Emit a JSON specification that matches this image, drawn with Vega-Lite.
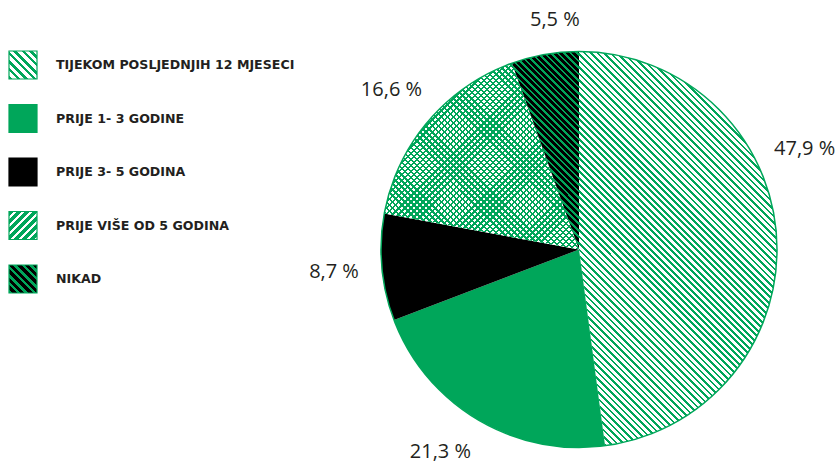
{
"$schema": "https://vega.github.io/schema/vega-lite/v6.json",
"autosize": {"type": "none"},
"padding": {"left": 320, "top": 35, "right": 0, "bottom": 0},
"width": 518,
"height": 429,
"background": "white",
"config": {"view": {"stroke": null}},
"params": [
{"name": "lh", "value": [
{"offset":0,"color":"#00a65a"},{"offset":0.0571,"color":"#00a65a"},{"offset":0.0571,"color":"#ffffff"},{"offset":0.1429,"color":"#ffffff"},
{"offset":0.1429,"color":"#00a65a"},{"offset":0.2,"color":"#00a65a"},{"offset":0.2,"color":"#ffffff"},{"offset":0.2857,"color":"#ffffff"},
{"offset":0.2857,"color":"#00a65a"},{"offset":0.3429,"color":"#00a65a"},{"offset":0.3429,"color":"#ffffff"},{"offset":0.4286,"color":"#ffffff"},
{"offset":0.4286,"color":"#00a65a"},{"offset":0.4857,"color":"#00a65a"},{"offset":0.4857,"color":"#ffffff"},{"offset":0.5714,"color":"#ffffff"},
{"offset":0.5714,"color":"#00a65a"},{"offset":0.6286,"color":"#00a65a"},{"offset":0.6286,"color":"#ffffff"},{"offset":0.7143,"color":"#ffffff"},
{"offset":0.7143,"color":"#00a65a"},{"offset":0.7714,"color":"#00a65a"},{"offset":0.7714,"color":"#ffffff"},{"offset":0.8571,"color":"#ffffff"},
{"offset":0.8571,"color":"#00a65a"},{"offset":0.9143,"color":"#00a65a"},{"offset":0.9143,"color":"#ffffff"},{"offset":1,"color":"#ffffff"}
]},
{"name": "lx", "value": [
{"offset":0,"color":"#00a65a"},{"offset":0.0857,"color":"#00a65a"},{"offset":0.0857,"color":"#ffffff"},{"offset":0.1429,"color":"#ffffff"},
{"offset":0.1429,"color":"#00a65a"},{"offset":0.2286,"color":"#00a65a"},{"offset":0.2286,"color":"#ffffff"},{"offset":0.2857,"color":"#ffffff"},
{"offset":0.2857,"color":"#00a65a"},{"offset":0.3714,"color":"#00a65a"},{"offset":0.3714,"color":"#ffffff"},{"offset":0.4286,"color":"#ffffff"},
{"offset":0.4286,"color":"#00a65a"},{"offset":0.5143,"color":"#00a65a"},{"offset":0.5143,"color":"#ffffff"},{"offset":0.5714,"color":"#ffffff"},
{"offset":0.5714,"color":"#00a65a"},{"offset":0.6571,"color":"#00a65a"},{"offset":0.6571,"color":"#ffffff"},{"offset":0.7143,"color":"#ffffff"},
{"offset":0.7143,"color":"#00a65a"},{"offset":0.8,"color":"#00a65a"},{"offset":0.8,"color":"#ffffff"},{"offset":0.8571,"color":"#ffffff"},
{"offset":0.8571,"color":"#00a65a"},{"offset":0.9429,"color":"#00a65a"},{"offset":0.9429,"color":"#ffffff"},{"offset":1,"color":"#ffffff"}
]},
{"name": "ln", "value": [
{"offset":0,"color":"#00a65a"},{"offset":0.0571,"color":"#00a65a"},{"offset":0.0571,"color":"#000000"},{"offset":0.1429,"color":"#000000"},
{"offset":0.1429,"color":"#00a65a"},{"offset":0.2,"color":"#00a65a"},{"offset":0.2,"color":"#000000"},{"offset":0.2857,"color":"#000000"},
{"offset":0.2857,"color":"#00a65a"},{"offset":0.3429,"color":"#00a65a"},{"offset":0.3429,"color":"#000000"},{"offset":0.4286,"color":"#000000"},
{"offset":0.4286,"color":"#00a65a"},{"offset":0.4857,"color":"#00a65a"},{"offset":0.4857,"color":"#000000"},{"offset":0.5714,"color":"#000000"},
{"offset":0.5714,"color":"#00a65a"},{"offset":0.6286,"color":"#00a65a"},{"offset":0.6286,"color":"#000000"},{"offset":0.7143,"color":"#000000"},
{"offset":0.7143,"color":"#00a65a"},{"offset":0.7714,"color":"#00a65a"},{"offset":0.7714,"color":"#000000"},{"offset":0.8571,"color":"#000000"},
{"offset":0.8571,"color":"#00a65a"},{"offset":0.9143,"color":"#00a65a"},{"offset":0.9143,"color":"#000000"},{"offset":1,"color":"#000000"}
]},
{"name": "st", "value": [
{"offset":0,"color":"#00a65a"},{"offset":0.004,"color":"#00a65a"},{"offset":0.004,"color":"#0000"},{"offset":0.01,"color":"#0000"},
{"offset":0.01,"color":"#00a65a"},{"offset":0.014,"color":"#00a65a"},{"offset":0.014,"color":"#0000"},{"offset":0.02,"color":"#0000"},
{"offset":0.02,"color":"#00a65a"},{"offset":0.024,"color":"#00a65a"},{"offset":0.024,"color":"#0000"},{"offset":0.03,"color":"#0000"},
{"offset":0.03,"color":"#00a65a"},{"offset":0.034,"color":"#00a65a"},{"offset":0.034,"color":"#0000"},{"offset":0.04,"color":"#0000"},
{"offset":0.04,"color":"#00a65a"},{"offset":0.044,"color":"#00a65a"},{"offset":0.044,"color":"#0000"},{"offset":0.05,"color":"#0000"},
{"offset":0.05,"color":"#00a65a"},{"offset":0.054,"color":"#00a65a"},{"offset":0.054,"color":"#0000"},{"offset":0.06,"color":"#0000"},
{"offset":0.06,"color":"#00a65a"},{"offset":0.064,"color":"#00a65a"},{"offset":0.064,"color":"#0000"},{"offset":0.07,"color":"#0000"},
{"offset":0.07,"color":"#00a65a"},{"offset":0.074,"color":"#00a65a"},{"offset":0.074,"color":"#0000"},{"offset":0.08,"color":"#0000"},
{"offset":0.08,"color":"#00a65a"},{"offset":0.084,"color":"#00a65a"},{"offset":0.084,"color":"#0000"},{"offset":0.09,"color":"#0000"},
{"offset":0.09,"color":"#00a65a"},{"offset":0.094,"color":"#00a65a"},{"offset":0.094,"color":"#0000"},{"offset":0.1,"color":"#0000"},
{"offset":0.1,"color":"#00a65a"},{"offset":0.104,"color":"#00a65a"},{"offset":0.104,"color":"#0000"},{"offset":0.11,"color":"#0000"},
{"offset":0.11,"color":"#00a65a"},{"offset":0.114,"color":"#00a65a"},{"offset":0.114,"color":"#0000"},{"offset":0.12,"color":"#0000"},
{"offset":0.12,"color":"#00a65a"},{"offset":0.124,"color":"#00a65a"},{"offset":0.124,"color":"#0000"},{"offset":0.13,"color":"#0000"},
{"offset":0.13,"color":"#00a65a"},{"offset":0.134,"color":"#00a65a"},{"offset":0.134,"color":"#0000"},{"offset":0.14,"color":"#0000"},
{"offset":0.14,"color":"#00a65a"},{"offset":0.144,"color":"#00a65a"},{"offset":0.144,"color":"#0000"},{"offset":0.15,"color":"#0000"},
{"offset":0.15,"color":"#00a65a"},{"offset":0.154,"color":"#00a65a"},{"offset":0.154,"color":"#0000"},{"offset":0.16,"color":"#0000"},
{"offset":0.16,"color":"#00a65a"},{"offset":0.164,"color":"#00a65a"},{"offset":0.164,"color":"#0000"},{"offset":0.17,"color":"#0000"},
{"offset":0.17,"color":"#00a65a"},{"offset":0.174,"color":"#00a65a"},{"offset":0.174,"color":"#0000"},{"offset":0.18,"color":"#0000"},
{"offset":0.18,"color":"#00a65a"},{"offset":0.184,"color":"#00a65a"},{"offset":0.184,"color":"#0000"},{"offset":0.19,"color":"#0000"},
{"offset":0.19,"color":"#00a65a"},{"offset":0.194,"color":"#00a65a"},{"offset":0.194,"color":"#0000"},{"offset":0.2,"color":"#0000"},
{"offset":0.2,"color":"#00a65a"},{"offset":0.204,"color":"#00a65a"},{"offset":0.204,"color":"#0000"},{"offset":0.21,"color":"#0000"},
{"offset":0.21,"color":"#00a65a"},{"offset":0.214,"color":"#00a65a"},{"offset":0.214,"color":"#0000"},{"offset":0.22,"color":"#0000"},
{"offset":0.22,"color":"#00a65a"},{"offset":0.224,"color":"#00a65a"},{"offset":0.224,"color":"#0000"},{"offset":0.23,"color":"#0000"},
{"offset":0.23,"color":"#00a65a"},{"offset":0.234,"color":"#00a65a"},{"offset":0.234,"color":"#0000"},{"offset":0.24,"color":"#0000"},
{"offset":0.24,"color":"#00a65a"},{"offset":0.244,"color":"#00a65a"},{"offset":0.244,"color":"#0000"},{"offset":0.25,"color":"#0000"},
{"offset":0.25,"color":"#00a65a"},{"offset":0.254,"color":"#00a65a"},{"offset":0.254,"color":"#0000"},{"offset":0.26,"color":"#0000"},
{"offset":0.26,"color":"#00a65a"},{"offset":0.264,"color":"#00a65a"},{"offset":0.264,"color":"#0000"},{"offset":0.27,"color":"#0000"},
{"offset":0.27,"color":"#00a65a"},{"offset":0.274,"color":"#00a65a"},{"offset":0.274,"color":"#0000"},{"offset":0.28,"color":"#0000"},
{"offset":0.28,"color":"#00a65a"},{"offset":0.284,"color":"#00a65a"},{"offset":0.284,"color":"#0000"},{"offset":0.29,"color":"#0000"},
{"offset":0.29,"color":"#00a65a"},{"offset":0.294,"color":"#00a65a"},{"offset":0.294,"color":"#0000"},{"offset":0.3,"color":"#0000"},
{"offset":0.3,"color":"#00a65a"},{"offset":0.304,"color":"#00a65a"},{"offset":0.304,"color":"#0000"},{"offset":0.31,"color":"#0000"},
{"offset":0.31,"color":"#00a65a"},{"offset":0.314,"color":"#00a65a"},{"offset":0.314,"color":"#0000"},{"offset":0.32,"color":"#0000"},
{"offset":0.32,"color":"#00a65a"},{"offset":0.324,"color":"#00a65a"},{"offset":0.324,"color":"#0000"},{"offset":0.33,"color":"#0000"},
{"offset":0.33,"color":"#00a65a"},{"offset":0.334,"color":"#00a65a"},{"offset":0.334,"color":"#0000"},{"offset":0.34,"color":"#0000"},
{"offset":0.34,"color":"#00a65a"},{"offset":0.344,"color":"#00a65a"},{"offset":0.344,"color":"#0000"},{"offset":0.35,"color":"#0000"},
{"offset":0.35,"color":"#00a65a"},{"offset":0.354,"color":"#00a65a"},{"offset":0.354,"color":"#0000"},{"offset":0.36,"color":"#0000"},
{"offset":0.36,"color":"#00a65a"},{"offset":0.364,"color":"#00a65a"},{"offset":0.364,"color":"#0000"},{"offset":0.37,"color":"#0000"},
{"offset":0.37,"color":"#00a65a"},{"offset":0.374,"color":"#00a65a"},{"offset":0.374,"color":"#0000"},{"offset":0.38,"color":"#0000"},
{"offset":0.38,"color":"#00a65a"},{"offset":0.384,"color":"#00a65a"},{"offset":0.384,"color":"#0000"},{"offset":0.39,"color":"#0000"},
{"offset":0.39,"color":"#00a65a"},{"offset":0.394,"color":"#00a65a"},{"offset":0.394,"color":"#0000"},{"offset":0.4,"color":"#0000"},
{"offset":0.4,"color":"#00a65a"},{"offset":0.404,"color":"#00a65a"},{"offset":0.404,"color":"#0000"},{"offset":0.41,"color":"#0000"},
{"offset":0.41,"color":"#00a65a"},{"offset":0.414,"color":"#00a65a"},{"offset":0.414,"color":"#0000"},{"offset":0.42,"color":"#0000"},
{"offset":0.42,"color":"#00a65a"},{"offset":0.424,"color":"#00a65a"},{"offset":0.424,"color":"#0000"},{"offset":0.43,"color":"#0000"},
{"offset":0.43,"color":"#00a65a"},{"offset":0.434,"color":"#00a65a"},{"offset":0.434,"color":"#0000"},{"offset":0.44,"color":"#0000"},
{"offset":0.44,"color":"#00a65a"},{"offset":0.444,"color":"#00a65a"},{"offset":0.444,"color":"#0000"},{"offset":0.45,"color":"#0000"},
{"offset":0.45,"color":"#00a65a"},{"offset":0.454,"color":"#00a65a"},{"offset":0.454,"color":"#0000"},{"offset":0.46,"color":"#0000"},
{"offset":0.46,"color":"#00a65a"},{"offset":0.464,"color":"#00a65a"},{"offset":0.464,"color":"#0000"},{"offset":0.47,"color":"#0000"},
{"offset":0.47,"color":"#00a65a"},{"offset":0.474,"color":"#00a65a"},{"offset":0.474,"color":"#0000"},{"offset":0.48,"color":"#0000"},
{"offset":0.48,"color":"#00a65a"},{"offset":0.484,"color":"#00a65a"},{"offset":0.484,"color":"#0000"},{"offset":0.49,"color":"#0000"},
{"offset":0.49,"color":"#00a65a"},{"offset":0.494,"color":"#00a65a"},{"offset":0.494,"color":"#0000"},{"offset":0.5,"color":"#0000"},
{"offset":0.5,"color":"#00a65a"},{"offset":0.504,"color":"#00a65a"},{"offset":0.504,"color":"#0000"},{"offset":0.51,"color":"#0000"},
{"offset":0.51,"color":"#00a65a"},{"offset":0.514,"color":"#00a65a"},{"offset":0.514,"color":"#0000"},{"offset":0.52,"color":"#0000"},
{"offset":0.52,"color":"#00a65a"},{"offset":0.524,"color":"#00a65a"},{"offset":0.524,"color":"#0000"},{"offset":0.53,"color":"#0000"},
{"offset":0.53,"color":"#00a65a"},{"offset":0.534,"color":"#00a65a"},{"offset":0.534,"color":"#0000"},{"offset":0.54,"color":"#0000"},
{"offset":0.54,"color":"#00a65a"},{"offset":0.544,"color":"#00a65a"},{"offset":0.544,"color":"#0000"},{"offset":0.55,"color":"#0000"},
{"offset":0.55,"color":"#00a65a"},{"offset":0.554,"color":"#00a65a"},{"offset":0.554,"color":"#0000"},{"offset":0.56,"color":"#0000"},
{"offset":0.56,"color":"#00a65a"},{"offset":0.564,"color":"#00a65a"},{"offset":0.564,"color":"#0000"},{"offset":0.57,"color":"#0000"},
{"offset":0.57,"color":"#00a65a"},{"offset":0.574,"color":"#00a65a"},{"offset":0.574,"color":"#0000"},{"offset":0.58,"color":"#0000"},
{"offset":0.58,"color":"#00a65a"},{"offset":0.584,"color":"#00a65a"},{"offset":0.584,"color":"#0000"},{"offset":0.59,"color":"#0000"},
{"offset":0.59,"color":"#00a65a"},{"offset":0.594,"color":"#00a65a"},{"offset":0.594,"color":"#0000"},{"offset":0.6,"color":"#0000"},
{"offset":0.6,"color":"#00a65a"},{"offset":0.604,"color":"#00a65a"},{"offset":0.604,"color":"#0000"},{"offset":0.61,"color":"#0000"},
{"offset":0.61,"color":"#00a65a"},{"offset":0.614,"color":"#00a65a"},{"offset":0.614,"color":"#0000"},{"offset":0.62,"color":"#0000"},
{"offset":0.62,"color":"#00a65a"},{"offset":0.624,"color":"#00a65a"},{"offset":0.624,"color":"#0000"},{"offset":0.63,"color":"#0000"},
{"offset":0.63,"color":"#00a65a"},{"offset":0.634,"color":"#00a65a"},{"offset":0.634,"color":"#0000"},{"offset":0.64,"color":"#0000"},
{"offset":0.64,"color":"#00a65a"},{"offset":0.644,"color":"#00a65a"},{"offset":0.644,"color":"#0000"},{"offset":0.65,"color":"#0000"},
{"offset":0.65,"color":"#00a65a"},{"offset":0.654,"color":"#00a65a"},{"offset":0.654,"color":"#0000"},{"offset":0.66,"color":"#0000"},
{"offset":0.66,"color":"#00a65a"},{"offset":0.664,"color":"#00a65a"},{"offset":0.664,"color":"#0000"},{"offset":0.67,"color":"#0000"},
{"offset":0.67,"color":"#00a65a"},{"offset":0.674,"color":"#00a65a"},{"offset":0.674,"color":"#0000"},{"offset":0.68,"color":"#0000"},
{"offset":0.68,"color":"#00a65a"},{"offset":0.684,"color":"#00a65a"},{"offset":0.684,"color":"#0000"},{"offset":0.69,"color":"#0000"},
{"offset":0.69,"color":"#00a65a"},{"offset":0.694,"color":"#00a65a"},{"offset":0.694,"color":"#0000"},{"offset":0.7,"color":"#0000"},
{"offset":0.7,"color":"#00a65a"},{"offset":0.704,"color":"#00a65a"},{"offset":0.704,"color":"#0000"},{"offset":0.71,"color":"#0000"},
{"offset":0.71,"color":"#00a65a"},{"offset":0.714,"color":"#00a65a"},{"offset":0.714,"color":"#0000"},{"offset":0.72,"color":"#0000"},
{"offset":0.72,"color":"#00a65a"},{"offset":0.724,"color":"#00a65a"},{"offset":0.724,"color":"#0000"},{"offset":0.73,"color":"#0000"},
{"offset":0.73,"color":"#00a65a"},{"offset":0.734,"color":"#00a65a"},{"offset":0.734,"color":"#0000"},{"offset":0.74,"color":"#0000"},
{"offset":0.74,"color":"#00a65a"},{"offset":0.744,"color":"#00a65a"},{"offset":0.744,"color":"#0000"},{"offset":0.75,"color":"#0000"},
{"offset":0.75,"color":"#00a65a"},{"offset":0.754,"color":"#00a65a"},{"offset":0.754,"color":"#0000"},{"offset":0.76,"color":"#0000"},
{"offset":0.76,"color":"#00a65a"},{"offset":0.764,"color":"#00a65a"},{"offset":0.764,"color":"#0000"},{"offset":0.77,"color":"#0000"},
{"offset":0.77,"color":"#00a65a"},{"offset":0.774,"color":"#00a65a"},{"offset":0.774,"color":"#0000"},{"offset":0.78,"color":"#0000"},
{"offset":0.78,"color":"#00a65a"},{"offset":0.784,"color":"#00a65a"},{"offset":0.784,"color":"#0000"},{"offset":0.79,"color":"#0000"},
{"offset":0.79,"color":"#00a65a"},{"offset":0.794,"color":"#00a65a"},{"offset":0.794,"color":"#0000"},{"offset":0.8,"color":"#0000"},
{"offset":0.8,"color":"#00a65a"},{"offset":0.804,"color":"#00a65a"},{"offset":0.804,"color":"#0000"},{"offset":0.81,"color":"#0000"},
{"offset":0.81,"color":"#00a65a"},{"offset":0.814,"color":"#00a65a"},{"offset":0.814,"color":"#0000"},{"offset":0.82,"color":"#0000"},
{"offset":0.82,"color":"#00a65a"},{"offset":0.824,"color":"#00a65a"},{"offset":0.824,"color":"#0000"},{"offset":0.83,"color":"#0000"},
{"offset":0.83,"color":"#00a65a"},{"offset":0.834,"color":"#00a65a"},{"offset":0.834,"color":"#0000"},{"offset":0.84,"color":"#0000"},
{"offset":0.84,"color":"#00a65a"},{"offset":0.844,"color":"#00a65a"},{"offset":0.844,"color":"#0000"},{"offset":0.85,"color":"#0000"},
{"offset":0.85,"color":"#00a65a"},{"offset":0.854,"color":"#00a65a"},{"offset":0.854,"color":"#0000"},{"offset":0.86,"color":"#0000"},
{"offset":0.86,"color":"#00a65a"},{"offset":0.864,"color":"#00a65a"},{"offset":0.864,"color":"#0000"},{"offset":0.87,"color":"#0000"},
{"offset":0.87,"color":"#00a65a"},{"offset":0.874,"color":"#00a65a"},{"offset":0.874,"color":"#0000"},{"offset":0.88,"color":"#0000"},
{"offset":0.88,"color":"#00a65a"},{"offset":0.884,"color":"#00a65a"},{"offset":0.884,"color":"#0000"},{"offset":0.89,"color":"#0000"},
{"offset":0.89,"color":"#00a65a"},{"offset":0.894,"color":"#00a65a"},{"offset":0.894,"color":"#0000"},{"offset":0.9,"color":"#0000"},
{"offset":0.9,"color":"#00a65a"},{"offset":0.904,"color":"#00a65a"},{"offset":0.904,"color":"#0000"},{"offset":0.91,"color":"#0000"},
{"offset":0.91,"color":"#00a65a"},{"offset":0.914,"color":"#00a65a"},{"offset":0.914,"color":"#0000"},{"offset":0.92,"color":"#0000"},
{"offset":0.92,"color":"#00a65a"},{"offset":0.924,"color":"#00a65a"},{"offset":0.924,"color":"#0000"},{"offset":0.93,"color":"#0000"},
{"offset":0.93,"color":"#00a65a"},{"offset":0.934,"color":"#00a65a"},{"offset":0.934,"color":"#0000"},{"offset":0.94,"color":"#0000"},
{"offset":0.94,"color":"#00a65a"},{"offset":0.944,"color":"#00a65a"},{"offset":0.944,"color":"#0000"},{"offset":0.95,"color":"#0000"},
{"offset":0.95,"color":"#00a65a"},{"offset":0.954,"color":"#00a65a"},{"offset":0.954,"color":"#0000"},{"offset":0.96,"color":"#0000"},
{"offset":0.96,"color":"#00a65a"},{"offset":0.964,"color":"#00a65a"},{"offset":0.964,"color":"#0000"},{"offset":0.97,"color":"#0000"},
{"offset":0.97,"color":"#00a65a"},{"offset":0.974,"color":"#00a65a"},{"offset":0.974,"color":"#0000"},{"offset":0.98,"color":"#0000"},
{"offset":0.98,"color":"#00a65a"},{"offset":0.984,"color":"#00a65a"},{"offset":0.984,"color":"#0000"},{"offset":0.99,"color":"#0000"},
{"offset":0.99,"color":"#00a65a"},{"offset":0.994,"color":"#00a65a"},{"offset":0.994,"color":"#0000"},{"offset":1,"color":"#0000"}
]}
],
"data": {"values": [
{"kategorija": "TIJEKOM POSLJEDNJIH 12 MJESECI", "udio": 47.9, "redoslijed": 1},
{"kategorija": "PRIJE 1- 3 GODINE", "udio": 21.3, "redoslijed": 2},
{"kategorija": "PRIJE 3- 5 GODINA", "udio": 8.7, "redoslijed": 3},
{"kategorija": "PRIJE VIŠE OD 5 GODINA", "udio": 16.6, "redoslijed": 4},
{"kategorija": "NIKAD", "udio": 5.5, "redoslijed": 5}
]},
"transform": [
{"stack": "udio", "groupby": [], "sort": [{"field": "redoslijed", "order": "ascending"}], "as": ["p0", "p1"]},
{"calculate": "(datum.p0 + datum.p1) / 2", "as": "pm"},
{"calculate": "replace(format(datum.udio, '.1f'), '.', ',') + ' %'", "as": "oznaka"}
],
"layer": [
{
"mark": {"type": "arc", "radius": 198},
"encoding": {
"theta": {"field": "p0", "type": "quantitative", "stack": null, "scale": {"domain": [0, 100]}},
"theta2": {"field": "p1"},
"fill": {"condition": [{"test": "datum.redoslijed == 2", "value": "#00a65a"}, {"test": "datum.redoslijed == 3 || datum.redoslijed == 5", "value": "#000000"}], "value": "#ffffff"}
}
},
{
"transform": [{"filter": "datum.redoslijed == 1"}],
"mark": {"type": "arc", "radius": 198, "fill": {"expr": "{gradient: 'linear', x1: 0, y1: 1, x2: 0.6617, y2: -0.3176, stops: st}"}},
"encoding": {
"theta": {"field": "p0", "type": "quantitative", "stack": null, "scale": {"domain": [0, 100]}},
"theta2": {"field": "p1"}
}
},
{
"transform": [{"filter": "datum.redoslijed == 5"}],
"mark": {"type": "arc", "radius": 198, "fill": {"expr": "{gradient: 'linear', x1: 0, y1: 1, x2: 0.9988, y2: -1.9472, stops: st}"}},
"encoding": {
"theta": {"field": "p0", "type": "quantitative", "stack": null, "scale": {"domain": [0, 100]}},
"theta2": {"field": "p1"}
}
},
{
"transform": [{"filter": "datum.redoslijed == 4"}],
"mark": {"type": "arc", "radius": 198, "fill": {"expr": "{gradient: 'linear', x1: 0, y1: 1, x2: 1.6305, y2: -0.5601, stops: st}"}},
"encoding": {
"theta": {"field": "p0", "type": "quantitative", "stack": null, "scale": {"domain": [0, 100]}},
"theta2": {"field": "p1"}
}
},
{
"transform": [{"filter": "datum.redoslijed == 4"}],
"mark": {"type": "arc", "radius": 198, "fill": {"expr": "{gradient: 'linear', x1: 0, y1: 0, x2: 1.6305, y2: 1.5601, stops: st}"}},
"encoding": {
"theta": {"field": "p0", "type": "quantitative", "stack": null, "scale": {"domain": [0, 100]}},
"theta2": {"field": "p1"}
}
},
{
"transform": [{"filter": "datum.redoslijed == 1"}],
"mark": {"type": "arc", "radius": 198, "filled": false, "stroke": "#00a65a", "strokeWidth": 1.5},
"encoding": {
"theta": {"datum": 0, "type": "quantitative", "scale": {"domain": [0, 100]}},
"theta2": {"datum": 100}
}
},
{
"mark": {"type": "arc", "radius": 0},
"encoding": {
"theta": {"field": "p0", "type": "quantitative", "stack": null, "scale": {"domain": [0, 100]}},
"theta2": {"field": "p1"},
"fill": {
"field": "kategorija", "type": "nominal",
"scale": {
"domain": ["TIJEKOM POSLJEDNJIH 12 MJESECI", "PRIJE 1- 3 GODINE", "PRIJE 3- 5 GODINA", "PRIJE VIŠE OD 5 GODINA", "NIKAD"],
"range": [
{"expr": "{gradient: 'linear', x1: 0, y1: 1, x2: 1, y2: 0, stops: lh}"},
"#00a65a",
"#000000",
{"expr": "{gradient: 'linear', x1: 0, y1: 0, x2: 1, y2: 1, stops: lx}"},
{"expr": "{gradient: 'linear', x1: 0, y1: 1, x2: 1, y2: 0, stops: ln}"}
]
},
"legend": {"title": null, "orient": "none", "legendX": -312, "legendY": 15, "symbolType": "square", "symbolSize": 784, "symbolStrokeWidth": 1.2, "rowPadding": 19.5, "labelOffset": 18, "labelFont": "DejaVu Sans", "labelFontSize": 12.6, "labelFontWeight": "bold", "labelColor": "#231f20", "labelLimit": 400}
},
"stroke": {
"field": "kategorija", "type": "nominal",
"scale": {
"domain": ["TIJEKOM POSLJEDNJIH 12 MJESECI", "PRIJE 1- 3 GODINE", "PRIJE 3- 5 GODINA", "PRIJE VIŠE OD 5 GODINA", "NIKAD"],
"range": ["#00a65a", "#00a65a", "#000000", "#00a65a", "#00a65a"]
},
"legend": {"title": null, "orient": "none", "legendX": -312, "legendY": 15, "symbolType": "square", "symbolSize": 784, "symbolStrokeWidth": 1.2, "rowPadding": 19.5, "labelOffset": 18, "labelFont": "DejaVu Sans", "labelFontSize": 12.6, "labelFontWeight": "bold", "labelColor": "#231f20", "labelLimit": 400}
}
}
},
{
"transform": [{"filter": "datum.redoslijed == 3 || datum.redoslijed == 4"}],
"mark": {"type": "text", "radius": 246, "font": "Open Sans", "fontSize": 20, "color": "#231f20", "align": "center", "baseline": "middle"},
"encoding": {
"theta": {"field": "pm", "type": "quantitative", "stack": null, "scale": {"domain": [0, 100]}},
"text": {"field": "oznaka"}
}
},
{
"transform": [{"filter": "datum.redoslijed == 1"}],
"mark": {"type": "text", "radius": 247, "thetaOffset": -0.353, "font": "Open Sans", "fontSize": 20, "color": "#231f20", "align": "center", "baseline": "middle"},
"encoding": {
"theta": {"field": "pm", "type": "quantitative", "stack": null, "scale": {"domain": [0, 100]}},
"text": {"field": "oznaka"}
}
},
{
"transform": [{"filter": "datum.redoslijed == 2"}],
"mark": {"type": "text", "radius": 245, "thetaOffset": 0.064, "font": "Open Sans", "fontSize": 20, "color": "#231f20", "align": "center", "baseline": "middle"},
"encoding": {
"theta": {"field": "pm", "type": "quantitative", "stack": null, "scale": {"domain": [0, 100]}},
"text": {"field": "oznaka"}
}
},
{
"transform": [{"filter": "datum.redoslijed == 5"}],
"mark": {"type": "text", "radius": 231, "thetaOffset": 0.068, "font": "Open Sans", "fontSize": 20, "color": "#231f20", "align": "center", "baseline": "middle"},
"encoding": {
"theta": {"field": "pm", "type": "quantitative", "stack": null, "scale": {"domain": [0, 100]}},
"text": {"field": "oznaka"}
}
}
]
}
